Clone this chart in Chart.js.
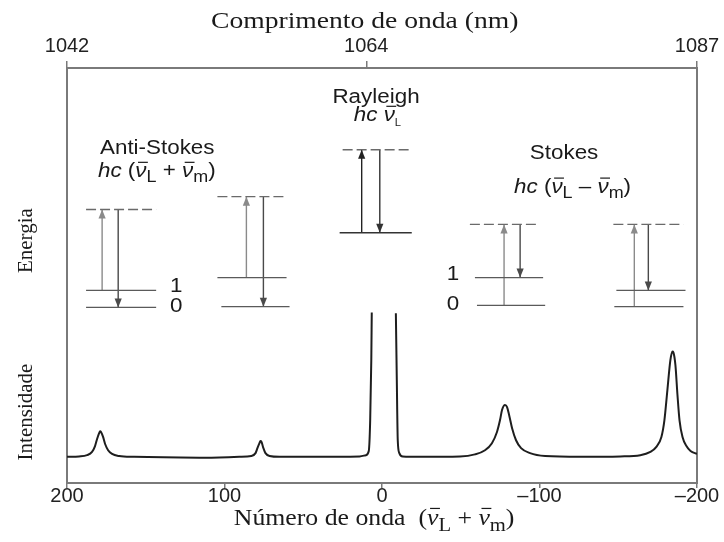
<!DOCTYPE html>
<html><head><meta charset="utf-8">
<script src="https://cdn.jsdelivr.net/npm/chart.js@4.4.1/dist/chart.umd.min.js"></script>
<style>html,body{margin:0;padding:0;background:#fff}#wrap{width:724px;height:542px}</style>
</head><body><div id="wrap"><canvas id="c" width="724" height="542"></canvas></div>
<script>
// ---- Spectrum (wavenumber shift, intensity) ----
const waveNumber = [200,192.4,187.3,184.1,182.2,180.9,179.6,179.0,178.4,177.1,175.8,173.9,171.4,166.9,157.4,116.0,90.5,82.9,80.3,79.1,77.8,77.2,76.5,75.3,74.0,71.4,65.1,26.9,14.2,10.3,8.4,7.5,6.8,6.5,
  0,
  -8.8,-9.4,-10.0,-11.0,-13.2,-24.0,-49.5,-59.0,-65.4,-69.8,-73.0,-74.9,-76.2,-78.1,-79.4,-80.7,-82.6,-85.1,-88.3,-94.0,-103.6,-125.9,-151.3,-164.0,-170.4,-174.2,-177.4,-179.3,-181.2,-183.1,-184.4,-185.0,-186.3,-187.6,-188.9,-190.8,-193.3,-195.9,-200];
const intensity = [6.3,6.4,6.7,7.5,8.9,10.6,12.0,12.5,12.3,11.1,9.4,7.9,7.0,6.5,6.3,6.1,6.3,6.5,7.2,8.4,9.6,10.1,9.9,8.4,7.2,6.5,6.3,6.3,6.4,6.7,7.7,15.1,29.6,41.1,
  null,
  40.9,24.8,10.3,7.2,6.4,6.3,6.4,6.9,7.9,9.6,12.3,15.1,17.6,18.8,18.3,16.4,13.2,10.3,8.4,7.2,6.5,6.3,6.4,6.7,7.5,8.7,11.1,15.1,22.4,29.6,31.7,31.5,28.4,21.2,15.1,11.1,8.9,7.7,7.0];

// ---- Axis ticks ----
const bottomTickValues = [200, 100, 0, -100, -200];
const topTickValues = [200, 10, -200];
const topTickLabels = ['1042', '1064', '1087'];

// ---- Energy level diagrams: [xStart, xEnd, level] ----
const groundLevels = [[187.9,143.4,42.3],[102.0,58.7,42.5],[26.9,-18.9,60.3],[-60.3,-103.6,42.8],[-147.5,-191.4,42.5]];
const excitedLevels = [[187.9,143.4,46.4],[104.5,60.6,49.5],[-59.0,-102.3,49.5],[-148.8,-192.7,46.4]];
const virtualLevels = [[187.9,143.4,65.9],[104.5,60.6,69.0],[25.0,-18.9,80.3],[-55.8,-99.1,62.3],[-146.9,-191.4,62.3]];
// arrows: [x, from, to]
const upArrows = [[177.7,46.4,65.9],[86.1,49.5,69.0],[12.9,60.3,80.3],[-77.5,42.8,62.3],[-160.2,42.5,62.3]];
const downArrows = [[167.5,65.9,42.3],[75.3,69.0,42.5],[1.4,80.3,60.3],[-87.7,62.3,49.5],[-169.1,62.3,46.4]];
// level number labels: [text, x, level]
const levelLabels = [['1',134.6,47.4],['0',134.6,42.5],['1',-41.1,50.2],['0',-41.1,43.0]];

const SANS = '"Liberation Sans", Arial, sans-serif';
const SERIF = '"Liberation Serif", "Times New Roman", serif';

const datasets = [];
datasets.push({
  data: waveNumber.map((x,i)=>({x, y: intensity[i]})),
  borderColor:'#1e1e1e', borderWidth:2, pointRadius:0, cubicInterpolationMode:'monotone', spanGaps:false, order:0
});
groundLevels.concat(excitedLevels).forEach((l,i)=>datasets.push({
  data:[{x:l[0],y:l[2]},{x:l[1],y:l[2]}], borderColor: (i===2?'#333':'#5a5a5a'), borderWidth:1.3, pointRadius:0
}));
virtualLevels.forEach(l=>datasets.push({
  data:[{x:l[0],y:l[2]},{x:l[1],y:l[2]}], borderColor:'#6a6a6a', borderWidth:1.3, borderDash:[10,4], pointRadius:0
}));
upArrows.forEach((a,i)=>datasets.push({
  data:[{x:a[0],y:a[1]},{x:a[0],y:a[2]}], borderColor:(i===2?'#222':'#8a8a8a'), borderWidth:1.4, pointRadius:0, arrow:true
}));
downArrows.forEach((a,i)=>datasets.push({
  data:[{x:a[0],y:a[1]},{x:a[0],y:a[2]}], borderColor:(i===2?'#333':'#4a4a4a'), borderWidth:1.4, pointRadius:0, arrow:true
}));

function drawRich(ctx, parts, cx, baseY, size, family, align, sx) {
  const items = parts.map(p => {
    const fs = p.sub ? size*p.sub : size;
    const font = (p.i?'italic ':'') + fs + 'px ' + family;
    ctx.font = font;
    return {p, font, w: ctx.measureText(p.t).width};
  });
  const total = items.reduce((a,b)=>a+b.w,0);
  ctx.save();
  ctx.translate(cx, baseY);
  ctx.scale(sx,1);
  let x = align==='center' ? -total/2 : (align==='right' ? -total : 0);
  ctx.textAlign='left'; ctx.textBaseline='alphabetic';
  for (const it of items) {
    ctx.font = it.font;
    const dy = it.p.sub ? size*0.25 : 0;
    ctx.fillText(it.p.t, x, dy);
    if (it.p.o) {
      ctx.beginPath();
      ctx.moveTo(x+size*0.12, -size*0.72);
      ctx.lineTo(x+it.w+size*0.06, -size*0.72);
      ctx.lineWidth=1.2; ctx.strokeStyle=ctx.fillStyle; ctx.stroke();
    }
    x += it.w;
  }
  ctx.restore();
}

const arrowPlugin = {
  id:'arrows',
  afterDatasetsDraw(chart){
    const ctx = chart.ctx;
    chart.data.datasets.forEach((ds,i)=>{
      if(!ds.arrow) return;
      const pts = chart.getDatasetMeta(i).data;
      const p0 = pts[0], p1 = pts[1];
      const ang = Math.atan2(p1.y-p0.y, p1.x-p0.x);
      const L = 9, W = 3.6;
      ctx.save();
      ctx.translate(p1.x, p1.y); ctx.rotate(ang);
      ctx.beginPath(); ctx.moveTo(0,0); ctx.lineTo(-L,-W); ctx.lineTo(-L,W); ctx.closePath();
      ctx.fillStyle = ds.borderColor; ctx.fill();
      ctx.restore();
    });
  }
};

const textPlugin = {
  id:'texts',
  afterDraw(chart){
    const ctx = chart.ctx, xs = chart.scales.x, ys = chart.scales.y, ca = chart.chartArea;
    const X = v=>xs.getPixelForValue(v), Y = v=>ys.getPixelForValue(v);
    ctx.save();
    ctx.fillStyle = '#1a1a1a';
    const S = 1.12;
    // group labels
    drawRich(ctx,[{t:'Anti-Stokes'}], X(142.7), Y(79.3), 20, SANS, 'center', S);
    drawRich(ctx,[{t:'hc',i:1},{t:' ('},{t:'ν',i:1,o:1},{t:'L',sub:0.8},{t:' + '},{t:'ν',i:1,o:1},{t:'m',sub:0.8},{t:')'}], X(143), Y(73.8), 20, SANS, 'center', S);
    drawRich(ctx,[{t:'Rayleigh'}], X(3.8), Y(91.6), 20, SANS, 'center', S);
    drawRich(ctx,[{t:'hc ',i:1},{t:'ν',i:1,o:1},{t:'L',sub:0.5}], X(2.9), Y(87.3), 20, SANS, 'center', S);
    drawRich(ctx,[{t:'Stokes'}], X(-115.6), Y(78.1), 20, SANS, 'center', S);
    drawRich(ctx,[{t:'hc',i:1},{t:' ('},{t:'ν',i:1,o:1},{t:'L',sub:0.8},{t:' – '},{t:'ν',i:1,o:1},{t:'m',sub:0.8},{t:')'}], X(-121), Y(70.0), 20, SANS, 'center', S);
    // level numbers
    ctx.font = '20px '+SANS; ctx.textAlign='left'; ctx.textBaseline='middle';
    levelLabels.forEach(l=>{
      ctx.save(); ctx.translate(X(l[1]), Y(l[2])); ctx.scale(S,1); ctx.fillText(l[0],0,0); ctx.restore();
    });
    // axis titles
    drawRich(ctx,[{t:'Comprimento de onda (nm)'}], X(11), ca.top-40, 24, SERIF, 'center', 1.15);
    drawRich(ctx,[{t:'Número de onda  ('},{t:'ν',i:1,o:1},{t:'L',sub:0.8},{t:' + '},{t:'ν',i:1,o:1},{t:'m',sub:0.8},{t:')'}], X(5), ca.bottom+42, 23, SERIF, 'center', 1.12);
    // left vertical labels
    ctx.font = '21px '+SERIF; ctx.textAlign='center'; ctx.textBaseline='middle';
    [['Energia',58.4],['Intensidade',17.1]].forEach(l=>{
      ctx.save(); ctx.translate(ca.left-41, Y(l[1])); ctx.rotate(-Math.PI/2); ctx.fillText(l[0],0,0); ctx.restore();
    });
    ctx.restore();
  }
};

const axisGray = '#7a7a7a';
new Chart(document.getElementById('c'), {
  type:'line',
  data:{datasets},
  options:{
    responsive:false, devicePixelRatio:1, animation:false, events:[],
    layout:{padding:0},
    plugins:{legend:{display:false}, tooltip:{enabled:false}},
    scales:{
      x:{type:'linear', position:'bottom', min:-200, max:200, reverse:true,
        afterBuildTicks: s=>{ s.ticks = bottomTickValues.map(v=>({value:v})); },
        ticks:{autoSkip:false, maxRotation:0, color:'#222', padding:-4, font:{family:SANS, size:20},
          callback:v=> v<0 ? '–'+Math.abs(v) : String(v)},
        grid:{display:true, drawOnChartArea:false, drawTicks:true, tickLength:5, color:axisGray, lineWidth:1.5},
        border:{display:true, color:axisGray, width:2},
        afterFit: s=>{ s.height = 59; }
      },
      xTop:{type:'linear', position:'top', min:-200, max:200, reverse:true,
        afterBuildTicks: s=>{ s.ticks = topTickValues.map(v=>({value:v})); },
        ticks:{autoSkip:false, maxRotation:0, color:'#222', padding:3, font:{family:SANS, size:20},
          callback:(v,i)=> topTickLabels[i]},
        grid:{display:true, drawOnChartArea:false, drawTicks:true, tickLength:7, color:axisGray, lineWidth:1.5},
        border:{display:true, color:axisGray, width:2},
        afterFit: s=>{ s.height = 68; }
      },
      y:{type:'linear', position:'left', min:0, max:100,
        ticks:{display:false}, grid:{display:false},
        border:{display:true, color:axisGray, width:2},
        afterFit: s=>{ s.width = 67; }
      },
      yR:{type:'linear', position:'right', min:0, max:100,
        ticks:{display:false}, grid:{display:false},
        border:{display:true, color:axisGray, width:2},
        afterFit: s=>{ s.width = 27; }
      }
    }
  },
  plugins:[arrowPlugin, textPlugin]
});
</script></body></html>
